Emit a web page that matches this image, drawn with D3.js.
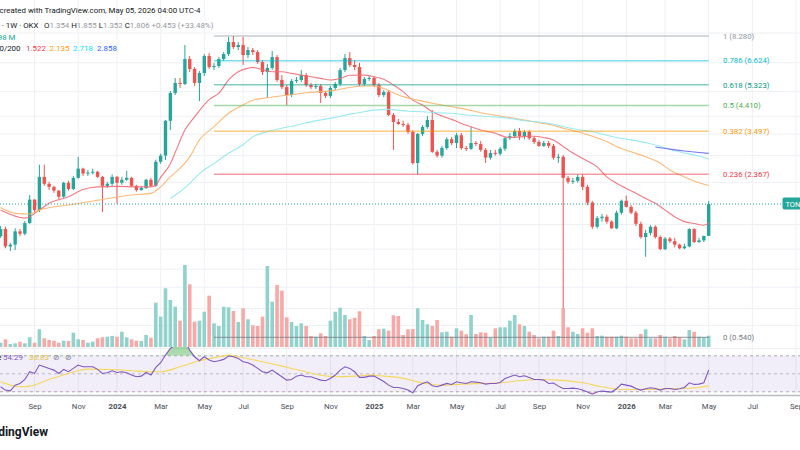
<!DOCTYPE html>
<html>
<head>
<meta charset="utf-8">
<script src="https://cdnjs.cloudflare.com/ajax/libs/d3/7.8.5/d3.min.js"></script>
<style>
  body { margin: 0; background: #fff; }
  svg { display: block; font-family: Roboto, "Noto Sans", sans-serif; }
</style>
</head>
<body>
<script>
//Weekly TON/USDT candles (OKX), one entry per week, first week = Jul 17 2023
var opens = [
  1.35,1.44,1.23,1.25,1.41,1.38,1.52,1.88,1.71,2.31,
  2.17,2.11,2.04,1.93,2.19,2.07,2.29,2.49,2.38,2.40,
  2.42,2.31,2.13,2.17,2.31,2.19,2.25,2.29,2.13,2.05,
  2.09,2.25,2.13,2.65,2.80,3.84,4.94,5.41,5.36,6.72,
  6.14,5.41,5.92,6.91,6.25,6.31,6.72,7.03,7.84,7.49,
  7.63,6.97,7.29,7.16,6.54,5.97,6.20,6.84,5.56,5.21,
  4.85,5.51,5.56,5.81,5.31,5.21,5.26,4.94,4.81,5.17,
  5.36,6.08,6.78,6.37,6.25,5.36,5.61,5.66,5.31,4.85,
  4.98,4.05,3.80,3.73,3.70,3.47,2.62,3.41,3.63,3.87,
  2.90,2.80,3.00,3.25,3.14,3.37,3.00,2.98,3.14,3.11,
  2.95,2.75,2.87,2.85,2.98,3.28,3.34,3.50,3.34,3.47,
  3.28,3.17,3.06,3.14,3.06,2.75,2.77,2.29,2.21,2.23,
  2.31,2.11,1.83,1.47,1.59,1.61,1.54,1.45,1.67,1.86,
  1.76,1.67,1.51,1.34,1.39,1.47,1.34,1.20,1.32,1.29,
  1.25,1.21,1.23,1.44,1.28,1.30,1.354
];
var highs = [
  1.48,1.47,1.27,1.45,1.44,1.55,1.96,1.89,2.58,2.58,
  2.21,2.13,2.05,2.21,2.23,2.33,2.77,2.51,2.46,2.49,
  2.44,2.33,2.21,2.36,2.33,2.31,2.44,2.31,2.15,2.13,
  2.27,2.29,2.70,2.85,3.87,5.03,5.66,5.66,7.63,6.91,
  6.25,6.03,7.03,7.10,6.48,6.84,7.16,8.21,8.28,7.84,
  8.21,7.49,7.43,7.29,6.66,6.43,7.23,6.97,5.81,5.31,
  5.61,5.71,6.08,5.92,5.41,5.36,5.36,5.03,5.26,5.46,
  6.20,7.03,7.16,6.66,6.48,5.71,5.76,5.76,5.41,5.07,
  5.07,4.12,3.91,3.84,3.77,3.53,3.44,3.70,4.01,4.23,
  2.95,3.06,3.31,3.31,3.44,3.44,3.06,3.63,3.20,3.20,
  3.00,2.95,2.95,3.03,3.31,3.44,3.57,3.60,3.53,3.53,
  3.34,3.23,3.20,3.20,3.11,2.85,2.82,2.33,2.29,2.36,
  2.36,2.15,1.86,1.62,1.65,1.64,1.56,1.70,1.88,1.95,
  1.79,1.70,1.54,1.43,1.49,1.49,1.36,1.34,1.34,1.33,
  1.26,1.26,1.45,1.45,1.33,1.35,1.855
];
var lows = [
  1.33,1.21,1.18,1.19,1.35,1.36,1.51,1.68,1.68,2.13,
  2.05,2.00,1.89,1.91,2.04,2.05,2.27,2.33,2.33,2.36,
  2.29,1.68,2.09,2.13,1.81,2.15,2.23,2.11,2.02,2.04,
  2.07,2.11,2.11,2.60,2.69,3.53,4.85,5.17,5.31,5.97,
  5.26,4.59,5.76,6.14,6.08,6.20,6.60,6.91,7.36,7.29,
  6.37,6.78,6.97,6.43,5.81,4.72,6.08,5.46,5.12,4.43,
  4.76,5.41,5.46,5.21,5.12,5.12,4.51,4.72,4.72,5.07,
  5.26,5.97,6.25,6.08,5.26,5.26,5.51,5.21,4.76,4.76,
  4.01,2.95,3.70,3.63,3.41,2.58,2.36,3.34,3.57,2.87,
  2.75,2.75,2.95,3.08,3.00,2.95,2.92,2.95,3.06,2.90,
  2.62,2.70,2.80,2.80,2.92,3.23,3.28,3.23,3.25,3.23,
  3.11,3.03,3.03,3.00,2.70,2.62,0.54,2.17,2.17,2.19,
  2.05,1.79,1.44,1.45,1.54,1.51,1.44,1.44,1.64,1.75,
  1.65,1.48,1.32,1.12,1.36,1.32,1.19,1.19,1.27,1.22,
  1.20,1.20,1.22,1.27,1.27,1.28,1.352
];
var closes = [
  1.44,1.23,1.25,1.41,1.38,1.52,1.88,1.71,2.31,2.17,
  2.11,2.04,1.93,2.19,2.07,2.29,2.49,2.38,2.40,2.42,
  2.31,2.13,2.17,2.31,2.19,2.25,2.29,2.13,2.05,2.09,
  2.25,2.13,2.65,2.80,3.84,4.94,5.41,5.36,6.72,6.14,
  5.41,5.92,6.91,6.25,6.31,6.72,7.03,7.84,7.49,7.63,
  6.97,7.29,7.16,6.54,5.97,6.20,6.84,5.56,5.21,4.85,
  5.51,5.56,5.81,5.31,5.21,5.26,4.94,4.81,5.17,5.36,
  6.08,6.78,6.37,6.25,5.36,5.61,5.66,5.31,4.85,4.98,
  4.05,3.80,3.73,3.70,3.47,2.62,3.41,3.63,3.87,2.90,
  2.80,3.00,3.25,3.14,3.37,3.00,2.98,3.14,3.11,2.95,
  2.75,2.87,2.85,2.98,3.28,3.34,3.50,3.34,3.47,3.28,
  3.17,3.06,3.14,3.06,2.75,2.77,2.29,2.21,2.23,2.31,
  2.11,1.83,1.47,1.59,1.61,1.54,1.45,1.67,1.86,1.76,
  1.67,1.51,1.34,1.39,1.47,1.34,1.20,1.32,1.29,1.25,
  1.21,1.23,1.44,1.28,1.30,1.354,1.806
];
//Volume, millions
var volumes = [
  14.4,25.9,10.1,12.4,17.8,12.4,32.6,14.4,59.5,29.2,
  23.5,21.2,14.4,21.2,20.2,48,25.9,23.5,14.4,17.8,
  29.2,32.6,34.6,37,34.6,51.4,32.6,25.9,21.2,20.2,
  40.3,31.2,148.8,101.8,197.2,157.9,135.4,88.4,275.5,210.7,
  85,88.4,118.6,172.4,79.6,70.6,135.4,133.4,121,84,
  130,93.1,72.9,70.6,101.8,272.2,152.2,208.3,189.2,99.8,
  84,70.6,79.6,70.6,37,34.6,46,37,88.4,118.6,
  132,107.5,93.1,98.4,120,37,23.5,37,59.5,61.5,
  54.8,106.5,104,40.3,59.5,60.5,130,90.7,76.3,70.6,
  90.7,49.4,51.4,34.6,62.8,54.8,42.7,107.5,43.7,49.4,
  48,31.2,62.8,66.2,66.2,88.4,107.5,76.3,70.6,51.4,
  40.3,29.2,34.6,34.6,54.8,37,130,66.2,51.4,43.7,
  62.8,48,62.8,37,38,34.6,34.6,34.6,38,34.6,
  29.2,29.2,43.7,59.5,29.2,29.2,40.3,34.6,29.2,37,
  32.6,25.9,57.1,51.4,34.6,32.6,37.98
];
//RSI(14) per week
var rsiValues = [
  35.6,31.9,31.1,37.4,39.3,43.7,52.3,50.4,59.7,57.8,
  56,54.1,50.4,54.9,52.3,56,59.7,57.8,57.8,57.8,
  54.9,50.4,51.1,53.4,51.5,52.3,51.1,48.6,46.7,47.4,
  51.5,48.6,57.1,62.3,70.8,78.2,82,84,86,76.3,
  68.9,64.5,68.9,65.2,63.4,64.5,66,69.7,68.9,67.1,
  63.4,62.3,59.7,56,52.3,51.1,54.1,50.4,46.7,43,
  43.7,47.4,48.6,46.7,46.7,44.8,43,42.3,44.8,48.6,
  54.1,57.8,56,52.3,46,46,47.4,47.4,44.5,41.5,
  37.4,34.8,34.8,33.7,31.9,28.9,36.7,39.3,41.1,36.7,
  35.6,37.4,39.3,38.2,41.1,40,39.3,41.1,40.8,40,
  38.5,39.3,39.3,40.4,44.8,46.7,48.6,46.7,47.8,46,
  43.7,43.7,43,39.3,39.7,36.3,33.7,33.7,34.1,33.4,
  31.9,29.7,27.4,29.7,30.8,30.2,29.7,33.4,38.5,37.4,
  36.3,33.7,31.9,33.4,34.5,33.7,31.9,33.7,33.7,32.6,
  33.4,34.8,40,38.2,38.5,40,54.29
];
//RSI-based MA, [week index, value]
var rsiMa = [[0,41.1],[2,37.4],[4,35.6],[6,36.3],[10,43.7],[14,50.4],[18,55.2],[23,54.8],[27,53.4],
  [31,52.3],[33,52.3],[37,57.8],[41,64.5],[45,68.9],[47,70.8],[49,68.9],[54,63.4],[58,58.5],[62,53.4],
  [66,48.5],[69,46.7],[73,47.4],[76,48.5],[79,47.4],[82,46],[87,40],[91,37.4],[95,38.5],[99,39.3],
  [103,40],[107,42.3],[111,43.7],[115,43],[120,40],[124,35.6],[128,32.6],[132,32.6],[136,33],
  [140,33.7],[144,34.8],[146,36.83]];

//Moving averages, [week index, price]
var ma20 = [[0,1.71],[5,1.59],[8,1.71],[10,1.82],[14,1.93],[17,2.06],[20,2.11],[24,2.12],[28,2.11],
  [31,2.11],[32,2.14],[33,2.30],[35,2.60],[36,2.88],[38,3.53],[40,3.98],[43,4.65],[45,4.93],[47,5.56],
  [49,5.99],[51,6.18],[52,6.23],[54,6.10],[56,5.99],[58,5.99],[60,5.90],[62,5.81],[64,5.72],[66,5.64],
  [68,5.56],[70,5.64],[72,5.80],[75,5.81],[77,5.72],[79,5.59],[81,5.31],[83,5.00],[85,4.63],[87,4.43],
  [89,4.17],[91,4.01],[93,3.89],[95,3.75],[97,3.64],[99,3.53],[102,3.43],[104,3.32],[105,3.30],
  [107,3.32],[109,3.34],[110,3.34],[112,3.30],[114,3.23],[116,3.04],[118,2.87],[120,2.73],[123,2.53],
  [125,2.31],[127,2.18],[129,2.08],[131,1.99],[133,1.90],[135,1.82],[137,1.71],[139,1.61],[141,1.54],
  [143,1.515],[145,1.49],[146,1.522]];
var ma50 = [[0,1.75],[3,1.66],[6,1.65],[8,1.71],[14,1.79],[20,1.87],[27,1.96],[31,1.99],[33,2.11],
  [35,2.31],[36,2.40],[39,2.77],[41,3.23],[44,3.64],[47,4.11],[50,4.43],[52,4.63],[55,4.73],[58,4.82],
  [61,4.89],[63,4.95],[66,5.00],[69,5.07],[71,5.15],[73,5.23],[75,5.26],[77,5.26],[79,5.15],[81,4.95],
  [83,4.78],[86,4.63],[89,4.50],[93,4.36],[96,4.26],[99,4.13],[103,4.01],[106,3.93],[108,3.87],
  [111,3.77],[114,3.69],[116,3.59],[119,3.48],[122,3.34],[125,3.18],[127,3.04],[130,2.90],[133,2.77],
  [136,2.62],[138,2.46],[141,2.31],[144,2.19],[146,2.135]];
var ma100 = [[35,1.90],[36,1.96],[37,2.02],[39,2.18],[41,2.38],[44,2.61],[47,2.86],[50,3.09],[52,3.32],
  [55,3.48],[58,3.59],[61,3.69],[63,3.77],[66,3.87],[69,3.96],[72,4.08],[75,4.17],[77,4.23],[80,4.26],
  [82,4.23],[84,4.19],[87,4.17],[90,4.13],[93,4.11],[96,4.05],[99,4.01],[103,3.96],[106,3.90],
  [108,3.84],[111,3.80],[114,3.72],[116,3.64],[119,3.55],[122,3.48],[125,3.37],[127,3.30],[130,3.23],
  [133,3.15],[136,3.05],[138,2.96],[141,2.87],[144,2.79],[146,2.718]];
var ma200 = [[135,3.03],[138,2.97],[141,2.92],[144,2.88],[146,2.858]];

//Fibonacci retracement
var fibLow = 0.540, fibHigh = 8.280;
var fibRatios = [0, 0.236, 0.382, 0.5, 0.618, 0.786, 1];
var fibColors = ['#787b86', '#f23645', '#ff9800', '#4caf50', '#089981', '#00bcd4', '#9598a1'];
var fibStart = 44;

//Time axis: week index of first bar of each labelled month
var timeTickIndex = [7,16,24,33,42,50,59,68,77,85,94,103,111,120,129,137,146,155,164];
var timeTickLabels = ['Sep','Nov','2024','Mar','May','Jul','Sep','Nov','2025','Mar','May','Jul','Sep','Nov','2026','Mar','May','Jul','Sep'];
var priceGrid = [8.5, 6.5, 5, 4, 3.4, 2.8, 2.2, 1.5, 1.2, 1, 0.85, 0.7, 0.6];

var width = 800, height = 450;
var up = '#26a69a', down = '#ef5350';

var n = closes.length;
var x = d3.scaleLinear().domain([0, n - 1]).range([0.6, 708.7]);
var y = d3.scaleLog().domain([fibLow, fibHigh]).range([337.3, 36]);
var yVol = d3.scaleLinear().domain([0, 275.5]).range([347, 265]);
var yRsi = d3.scaleLinear().domain([30, 70]).range([391.8, 355.8]);

var svg = d3.select('body').append('svg')
    .attr('width', width)
    .attr('height', height);
svg.append('rect').attr('width', width).attr('height', height).attr('fill', '#fff');

var defs = svg.append('defs');
defs.append('clipPath').attr('id', 'mainClip')
  .append('rect').attr('x', 0).attr('y', 0).attr('width', width).attr('height', 348);
defs.append('clipPath').attr('id', 'rsiClip')
  .append('rect').attr('x', 0).attr('y', 347).attr('width', width).attr('height', 48);
defs.append('clipPath').attr('id', 'obClip')
  .append('rect').attr('x', 0).attr('y', 347).attr('width', width).attr('height', yRsi(70) - 347);
defs.append('clipPath').attr('id', 'osClip')
  .append('rect').attr('x', 0).attr('y', yRsi(30)).attr('width', width).attr('height', 395 - yRsi(30));
var grad = defs.append('linearGradient').attr('id', 'obGrad')
  .attr('x1', 0).attr('y1', 0).attr('x2', 0).attr('y2', 1);
grad.append('stop').attr('offset', '0%').attr('stop-color', '#4caf50').attr('stop-opacity', 0.55);
grad.append('stop').attr('offset', '100%').attr('stop-color', '#4caf50').attr('stop-opacity', 0.12);

//Grid
var grid = svg.append('g');
grid.selectAll('line.v').data(timeTickIndex).enter()
  .append('line').attr('class', 'v')
  .attr('x1', function(d){ return x(d); }).attr('x2', function(d){ return x(d); })
  .attr('y1', 0).attr('y2', 395)
  .attr('stroke', '#eef0f4').attr('stroke-width', 1);
grid.selectAll('line.h').data(priceGrid).enter()
  .append('line').attr('class', 'h')
  .attr('x1', 0).attr('x2', width)
  .attr('y1', function(d){ return y(d); }).attr('y2', function(d){ return y(d); })
  .attr('stroke', '#eef0f4').attr('stroke-width', 1);

//Main pane
var main = svg.append('g').attr('clip-path', 'url(#mainClip)');

//Candles
var candles = main.append('g');
candles.selectAll('line').data(closes).enter()
  .append('line')
  .attr('x1', function(d, i){ return x(i); })
  .attr('x2', function(d, i){ return x(i); })
  .attr('y1', function(d, i){ return y(highs[i]); })
  .attr('y2', function(d, i){ return y(lows[i]); })
  .attr('stroke', function(d, i){ return d >= opens[i] ? up : down; })
  .attr('stroke-width', 1);
candles.selectAll('rect').data(closes).enter()
  .append('rect')
  .attr('x', function(d, i){ return x(i) - 1.7; })
  .attr('width', 3.4)
  .attr('y', function(d, i){ return Math.min(y(d), y(opens[i])); })
  .attr('height', function(d, i){ return Math.max(1, Math.abs(y(d) - y(opens[i]))); })
  .attr('fill', function(d, i){ return d >= opens[i] ? up : down; });

//Volume
main.append('g').selectAll('rect').data(volumes).enter()
  .append('rect')
  .attr('x', function(d, i){ return x(i) - 1.8; })
  .attr('width', 3.6)
  .attr('y', function(d){ return yVol(d); })
  .attr('height', function(d){ return yVol(0) - yVol(d); })
  .attr('fill', function(d, i){ return closes[i] >= opens[i] ? '#92d2cc' : '#f7a9a7'; });

//Moving averages
var maLine = d3.line()
  .x(function(d){ return x(d[0]); })
  .y(function(d){ return y(d[1]); })
  .curve(d3.curveMonotoneX);
[[ma20, '#f26b75'], [ma50, '#ffb26b'], [ma100, '#8ee8f0'], [ma200, '#6a6ae8']].forEach(function(m){
  main.append('path').datum(m[0])
    .attr('d', maLine)
    .attr('fill', 'none')
    .attr('stroke', m[1])
    .attr('stroke-width', 1.1)
    .attr('stroke-opacity', 0.9);
});

//Fib levels
var fib = svg.append('g');
fibRatios.forEach(function(r, k){
  var price = fibLow + r * (fibHigh - fibLow);
  fib.append('line')
    .attr('x1', x(fibStart)).attr('x2', x(n - 1))
    .attr('y1', y(price)).attr('y2', y(price))
    .attr('stroke', fibColors[k])
    .attr('stroke-width', r === 0 ? 1 : 1.5)
    .attr('stroke-opacity', r === 0 ? 0.8 : 0.5);
  fib.append('text')
    .attr('x', 723).attr('y', y(price) + 2.8)
    .attr('fill', fibColors[k])
    .style('font-size', '7.8px')
    .text(r + ' (' + price.toFixed(3) + ')');
});

//Last price line and label
svg.append('line')
  .attr('x1', 0).attr('x2', 782)
  .attr('y1', y(closes[n - 1])).attr('y2', y(closes[n - 1]))
  .attr('stroke', up).attr('stroke-width', 1).attr('stroke-dasharray', '1,2');
svg.append('rect')
  .attr('x', 782.5).attr('y', y(closes[n - 1]) - 6.5)
  .attr('width', 30).attr('height', 12).attr('rx', 2)
  .attr('fill', up);
svg.append('text')
  .attr('x', 785.5).attr('y', y(closes[n - 1]) + 2.6)
  .attr('fill', '#fff')
  .style('font-size', '7.5px')
  .text('TONUSDT');

//RSI pane
var rsiG = svg.append('g');
rsiG.append('line').attr('x1', 0).attr('x2', width).attr('y1', 348.5).attr('y2', 348.5)
  .attr('stroke', '#eceef2');
rsiG.append('rect')
  .attr('x', 0).attr('width', width)
  .attr('y', yRsi(70)).attr('height', yRsi(30) - yRsi(70))
  .attr('fill', 'rgba(126,87,194,0.1)');
[70, 50, 30].forEach(function(v){
  rsiG.append('line')
    .attr('x1', 0).attr('x2', width)
    .attr('y1', yRsi(v)).attr('y2', yRsi(v))
    .attr('stroke', '#787b86')
    .attr('stroke-opacity', v === 50 ? 0.45 : 0.6)
    .attr('stroke-dasharray', '3,3');
});
var rsiClipped = rsiG.append('g').attr('clip-path', 'url(#rsiClip)');
rsiClipped.append('path').datum(rsiValues)
  .attr('clip-path', 'url(#obClip)')
  .attr('d', d3.area()
    .x(function(d, i){ return x(i); })
    .y0(yRsi(70))
    .y1(function(d){ return yRsi(d); }))
  .attr('fill', 'url(#obGrad)');
rsiClipped.append('path').datum(rsiValues)
  .attr('clip-path', 'url(#osClip)')
  .attr('d', d3.area()
    .x(function(d, i){ return x(i); })
    .y0(yRsi(30))
    .y1(function(d){ return yRsi(d); }))
  .attr('fill', 'rgba(242,54,69,0.25)');
rsiClipped.append('path').datum(rsiMa)
  .attr('d', d3.line()
    .x(function(d){ return x(d[0]); })
    .y(function(d){ return yRsi(d[1]); })
    .curve(d3.curveMonotoneX))
  .attr('fill', 'none')
  .attr('stroke', '#f5d85a')
  .attr('stroke-width', 1.1);
rsiClipped.append('path').datum(rsiValues)
  .attr('d', d3.line()
    .x(function(d, i){ return x(i); })
    .y(function(d){ return yRsi(d); }))
  .attr('fill', 'none')
  .attr('stroke', '#7e57c2')
  .attr('stroke-width', 1.1);

//Time axis
svg.append('line').attr('x1', 0).attr('x2', width).attr('y1', 395.5).attr('y2', 395.5)
  .attr('stroke', '#b9bcc4').attr('stroke-width', 1.5);
var xAxis = svg.append('g')
  .attr('transform', 'translate(0,396)')
  .call(d3.axisBottom(x)
    .tickValues(timeTickIndex)
    .tickSize(0)
    .tickPadding(7)
    .tickFormat(function(d, i){ return timeTickLabels[i]; }));
xAxis.select('.domain').remove();
xAxis.selectAll('text')
  .attr('fill', '#4a4e59')
  .style('font-family', 'Roboto, sans-serif')
  .style('font-size', '7.8px')
  .style('font-weight', function(d, i){ return /^\d/.test(timeTickLabels[i]) ? 'bold' : 'normal'; });

//Legends
var legend = svg.append('g').style('font-size', '7.9px');
legend.append('text').attr('x', -0.5).attr('y', 12.5).attr('fill', '#131722')
  .text('created with TradingView.com, May 05, 2026 04:00 UTC-4');
legend.append('text').attr('x', 38.5).attr('y', 27.5).attr('text-anchor', 'end').attr('fill', '#131722')
  .text('Toncoin / Tether \u00b7 1W \u00b7 OKX');
var ohlc = legend.append('text').attr('x', 44).attr('y', 27.5);
[['O', opens[n - 1].toFixed(3)], ['H', highs[n - 1].toFixed(3)],
 ['L', lows[n - 1].toFixed(3)], ['C', closes[n - 1].toFixed(3)]].forEach(function(p, k){
  ohlc.append('tspan').attr('fill', '#131722').text((k ? '\u00a0' : '') + p[0]);
  ohlc.append('tspan').attr('fill', '#9598a1').text(p[1]);
});
ohlc.append('tspan').attr('fill', '#9598a1').text('\u00a0+0.453 (+33.48%)');
legend.append('text').attr('x', 15.5).attr('y', 40).attr('text-anchor', 'end').attr('fill', '#22ab94')
  .text('Vol \u00b7 TON 37.98 M');
legend.append('text').attr('x', 20.5).attr('y', 50.5).attr('text-anchor', 'end').attr('fill', '#131722')
  .text('MA Ribbon 20/50/100/200');
var maVals = ['1.522', '2.135', '2.718', '2.858'];
var maCols = ['#f23645', '#ff9800', '#00e5ff', '#2962ff'];
var maX = [26, 49.5, 73, 97];
maVals.forEach(function(v, k){
  legend.append('text').attr('x', maX[k]).attr('y', 50.5).attr('fill', maCols[k]).text(v);
});
legend.append('text').attr('x', 1.5).attr('y', 359.5).attr('text-anchor', 'end').attr('fill', '#131722')
  .text('RSI 14 close');
legend.append('text').attr('x', 3).attr('y', 359.5).attr('fill', '#7e57c2').text('54.29');
legend.append('text').attr('x', 29).attr('y', 359.5).attr('fill', '#e5c33a').text('36.83');
legend.append('text').attr('x', 53).attr('y', 359.5).attr('fill', '#787b86')
  .style('font-family', 'DejaVu Sans').text('\u2298');
legend.append('text').attr('x', 65).attr('y', 359.5).attr('fill', '#787b86')
  .style('font-family', 'DejaVu Sans').text('\u2298');

//Logo text
svg.append('text')
  .attr('x', 48).attr('y', 435.5)
  .attr('text-anchor', 'end')
  .attr('fill', '#131722')
  .style('font-size', '12px')
  .style('font-weight', 'bold')
  .text('TradingView');
</script>
</body>
</html>
